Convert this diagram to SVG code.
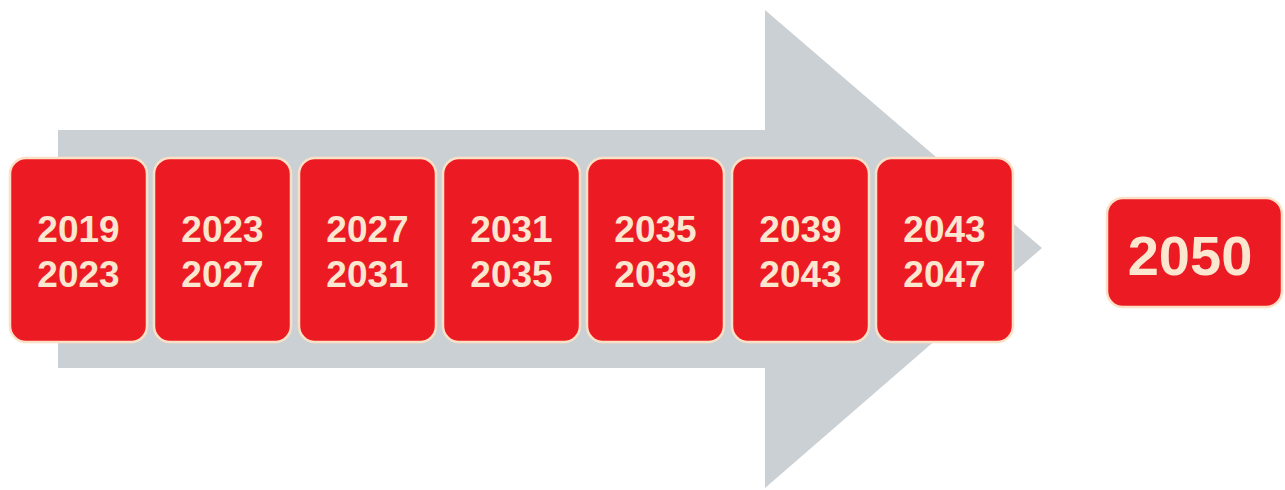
<svg xmlns="http://www.w3.org/2000/svg" width="1285" height="490" viewBox="0 0 1285 490">
<style>
.box{fill:#ec1b23;stroke:#fbe0c6;stroke-width:2.5}
.t{font-family:"Liberation Sans",Arial,sans-serif;font-weight:bold;font-size:37px;fill:#fbe6cf;text-anchor:middle}
.big{font-size:56px}
</style>
<rect width="1285" height="490" fill="#ffffff"/>
<g id="arrow">
<polygon points="58,130 765,130 765,10 1042,248 765,488 765,368 58,368" fill="#cbd0d4"/>
</g>
<g id="connectors"></g>
<g id="n1"><rect class="box" x="10" y="158" width="137" height="184" rx="16"/><text class="t" x="78.5" y="242">2019</text><text class="t" x="78.5" y="287">2023</text></g>
<g id="n2"><rect class="box" x="154" y="158" width="137" height="184" rx="16"/><text class="t" x="222.5" y="242">2023</text><text class="t" x="222.5" y="287">2027</text></g>
<g id="n3"><rect class="box" x="299" y="158" width="137" height="184" rx="16"/><text class="t" x="367.5" y="242">2027</text><text class="t" x="367.5" y="287">2031</text></g>
<g id="n4"><rect class="box" x="443" y="158" width="137" height="184" rx="16"/><text class="t" x="511.5" y="242">2031</text><text class="t" x="511.5" y="287">2035</text></g>
<g id="n5"><rect class="box" x="587" y="158" width="137" height="184" rx="16"/><text class="t" x="655.5" y="242">2035</text><text class="t" x="655.5" y="287">2039</text></g>
<g id="n6"><rect class="box" x="732" y="158" width="137" height="184" rx="16"/><text class="t" x="800.5" y="242">2039</text><text class="t" x="800.5" y="287">2043</text></g>
<g id="n7"><rect class="box" x="876" y="158" width="137" height="184" rx="16"/><text class="t" x="944.5" y="242">2043</text><text class="t" x="944.5" y="287">2047</text></g>
<g id="n8"><rect class="box" x="1107" y="198" width="175" height="109" rx="16"/><text class="t big" x="1190" y="275">2050</text></g>
</svg>
